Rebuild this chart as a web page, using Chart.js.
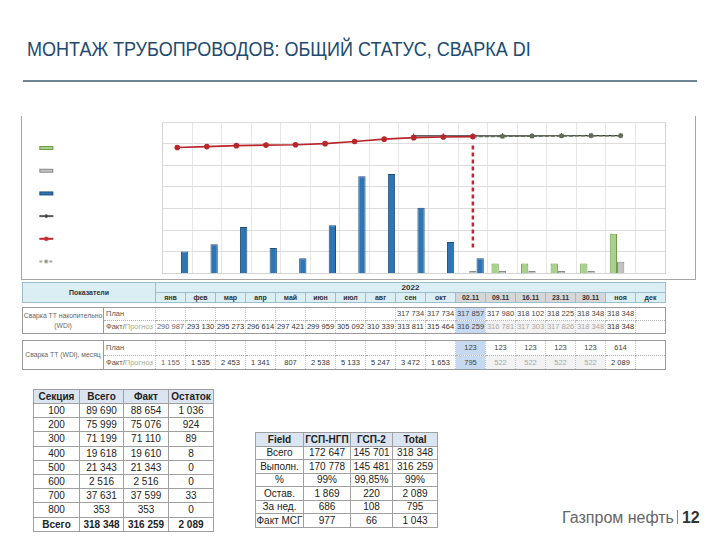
<!DOCTYPE html>
<html>
<head>
<meta charset="utf-8">
<script src="https://cdn.jsdelivr.net/npm/chart.js@4.4.1/dist/chart.umd.min.js"></script>
<style>
body{margin:0;width:720px;height:540px;background:#fff;position:relative;overflow:hidden;font-family:"Liberation Sans",Arial,sans-serif}
#title{position:absolute;left:27px;top:38px;font-size:20px;color:#1d4a6e;white-space:nowrap;transform:scaleX(0.9);transform-origin:0 0}
#rule{position:absolute;left:23px;top:80px;width:674px;height:2px;background:#6c8595}
#chartBox{position:absolute;left:21px;top:116px;width:675px;height:164px;border:1px solid #a6a6a6;border-top:none;box-sizing:border-box}
.bt{position:absolute;left:22px;border-collapse:collapse;table-layout:fixed;font-size:7.5px;color:#444}
.bt td{padding:0;text-align:center;white-space:nowrap;overflow:hidden;line-height:1}
#hdr td{background:#daeef3;border:1px solid #9cbfd0;font-weight:bold;color:#333;font-size:7px}
#hdr td.wk{background:#d6d6d6}
.blk td{border-left:1px dotted #c8c8c8;border-right:1px dotted #c8c8c8}
.blk tr.r1 td{border-bottom:1px dotted #b0b0b0}
.blk{border:1px solid #9a9a9a}
.blk td.lab{border:1px solid #9a9a9a;color:#666;line-height:1.35;font-size:6.8px}
.blk td.kind{border-left:1px solid #9a9a9a;text-align:left;padding-left:2px;color:#555}
.blk td.cur{background:#c6d9f0;color:#444}
.blk td.wk{background:#f2f2f2;color:#a8a8a8}
.prg{color:#a3b08e}
.st{position:absolute;border-collapse:collapse;table-layout:fixed;font-size:10px;color:#222}
.st td{border:1px solid #a0a0a0;text-align:center;padding:0;white-space:nowrap}
.st tr.h td{background:#dbe5f1;font-weight:bold}
.st tr.b td{font-weight:bold}
#footer{position:absolute;left:562px;top:509px;font-size:16px;color:#666;white-space:nowrap}
#footer .sep{display:inline-block;width:1px;height:14px;background:#888;margin:0 4px 0 3px;vertical-align:-1px}
#footer b{color:#333}
</style>
</head>
<body>
<div id="title">МОНТАЖ ТРУБОПРОВОДОВ: ОБЩИЙ СТАТУС, СВАРКА DI</div>
<div id="rule"></div>
<div id="chartBox"><canvas id="chart"></canvas></div>
<table class="bt" id="hdr" style="top:282px"></table>
<table class="bt blk" id="blk1" style="top:307px"></table>
<table class="bt blk" id="blk2" style="top:340px"></table>
<table class="st" id="sec" style="left:33px;top:389px"></table>
<table class="st" id="fld" style="left:255px;top:432px"></table>
<div id="footer">Газпром нефть<span class="sep"></span><b>12</b></div>
<script>
// periods on the x axis / table columns
var periods = ['янв','фев','мар','апр','май','июн','июл','авг','сен','окт','02.11','09.11','16.11','23.11','30.11','ноя','дек'];
var weeks = ['02.11','09.11','16.11','23.11','30.11'];

// monthly / weekly welding (left axis)
var forecastMonthly = [null,null,null,null,null,null,null,null,null,null,null,522,522,522,522,2089,null];
var planMonthly     = [null,null,null,null,null,null,null,null,null,null,123,123,123,123,123,614,null];
var factMonthly     = [1155,1535,2453,1341,807,2538,5133,5247,3472,1653,795,null,null,null,null,null,null];

// cumulative welding (right axis)
var planCum     = [null,null,null,null,null,null,null,null,317734,317734,317857,317980,318102,318225,318348,318348,null];
var factCum     = [290987,293130,295273,296614,297421,299959,305092,310339,313811,315464,316259,null,null,null,null,null,null];
var forecastCum = [null,null,null,null,null,null,null,null,null,null,316259,316781,317303,317826,318348,318348,null];

var todayMark = ['02.11', 60000, 300000];

// section table
var sections   = ['100','200','300','400','500','600','700','800','Всего'];
var secTotal   = [89690,75999,71199,19618,21343,2516,37631,353,318348];
var secFact    = [88654,75076,71110,19610,21343,2516,37599,353,316259];
var secRemain  = [1036,924,89,8,0,0,33,0,2089];

// field table
var fields   = ['Всего','Выполн.','%','Остав.','За нед.','Факт МСГ'];
var gspNgp   = ['172 647','170 778','99%','1 869','686','977'];
var gsp2     = ['145 701','145 481','99,85%','220','108','66'];
var fldTotal = ['318 348','316 259','99%','2 089','795','1 043'];

function fmt(n) {
  if (n === null || n === undefined) return '';
  return String(n).replace(/\B(?=(\d{3})+(?!\d))/g, ' ');
}

// ---- big table ----
var cols = '<colgroup><col style="width:81px"><col style="width:52px">';
periods.forEach(function() { cols += '<col style="width:30px">'; });
cols += '</colgroup>';

var h = cols + '<tr style="height:10px"><td colspan="2" rowspan="2">Показатели</td><td colspan="17" style="font-size:8px">2022</td></tr><tr style="height:10px">';
periods.forEach(function(p) { h += '<td' + (weeks.indexOf(p) >= 0 ? ' class="wk"' : '') + '>' + p + '</td>'; });
document.getElementById('hdr').innerHTML = h + '</tr>';

function cellClass(i, factRow) {
  if (periods[i] === '02.11') return ' class="cur"';
  if (factRow && i > 10 && i < 15) return ' class="wk"';
  return '';
}

function block(id, label, rowH, plan, fact, fcst) {
  var s = cols + '<tr class="r1" style="height:' + rowH + 'px"><td class="lab" rowspan="2">' + label + '</td><td class="kind">План</td>';
  plan.forEach(function(v, i) { s += '<td' + cellClass(i, false) + '>' + fmt(v) + '</td>'; });
  s += '</tr><tr style="height:' + rowH + 'px"><td class="kind">Факт/<span class="prg">Прогноз</span></td>';
  periods.forEach(function(p, i) {
    var v = fact[i] !== null ? fact[i] : fcst[i];
    var col = i === 0 ? ' style="color:#666"' : (i < 10 || i === 15 ? ' style="color:#333"' : '');
    var cls = cellClass(i, true);
    s += '<td' + (cls || col) + '>' + fmt(v) + '</td>';
  });
  document.getElementById(id).innerHTML = s + '</tr>';
}
block('blk1', 'Сварка ТТ накопительно<br>(WDi)', 13, planCum, factCum, forecastCum);
block('blk2', 'Сварка ТТ (WDi), месяц', 14.5, planMonthly, factMonthly, forecastMonthly);

// ---- section table ----
var s = '<colgroup><col style="width:46px"><col style="width:44px"><col style="width:45px"><col style="width:45px"></colgroup>';
s += '<tr class="h" style="height:14px"><td>Секция</td><td>Всего</td><td>Факт</td><td>Остаток</td></tr>';
sections.forEach(function(sec, i) {
  s += '<tr' + (i === sections.length - 1 ? ' class="b"' : '') + ' style="height:14.2px"><td>' + sec + '</td><td>' + fmt(secTotal[i]) + '</td><td>' + fmt(secFact[i]) + '</td><td>' + fmt(secRemain[i]) + '</td></tr>';
});
document.getElementById('sec').innerHTML = s;

// ---- field table ----
var f = '<colgroup><col style="width:48px"><col style="width:47px"><col style="width:42px"><col style="width:45px"></colgroup>';
f += '<tr class="h" style="height:13.5px"><td>Field</td><td>ГСП-НГП</td><td>ГСП-2</td><td>Total</td></tr>';
fields.forEach(function(fl, i) {
  f += '<tr style="height:13.5px"><td>' + fl + '</td><td>' + gspNgp[i] + '</td><td>' + gsp2[i] + '</td><td>' + fldTotal[i] + '</td></tr>';
});
document.getElementById('fld').innerHTML = f;

// ---- legend icons ----
function icon(draw) {
  var c = document.createElement('canvas');
  c.width = 16; c.height = 8;
  draw(c.getContext('2d'));
  return c;
}
function boxIcon(fill, stroke) {
  return icon(function(g) {
    g.fillStyle = fill; g.fillRect(1, 2, 14, 4);
    g.strokeStyle = stroke; g.lineWidth = 1; g.strokeRect(1.5, 2.5, 13, 3);
  });
}
var legendIcons = [
  boxIcon('#a9d18e', '#6f9a4c'),
  boxIcon('#c3c3c3', '#8a8a8a'),
  boxIcon('#2e75b6', '#1f4e79'),
  icon(function(g) {
    g.strokeStyle = '#222'; g.lineWidth = 1.3;
    g.beginPath(); g.moveTo(1, 4); g.lineTo(15, 4); g.moveTo(8, 2); g.lineTo(8, 6); g.stroke();
  }),
  icon(function(g) {
    g.strokeStyle = '#c0282d'; g.lineWidth = 2;
    g.beginPath(); g.moveTo(1, 4); g.lineTo(15, 4); g.stroke();
    g.fillStyle = '#c0282d'; g.beginPath(); g.arc(8, 4, 2.2, 0, Math.PI * 2); g.fill();
  }),
  icon(function(g) {
    g.strokeStyle = '#8a8f80'; g.lineWidth = 1.5; g.setLineDash([3, 2]);
    g.beginPath(); g.moveTo(1, 4); g.lineTo(15, 4); g.stroke();
    g.fillStyle = '#7d8a70'; g.fillRect(6.5, 2.5, 3, 3);
  })
];

var todayLine = {
  id: 'todayLine',
  afterDatasetsDraw: function(chart) {
    var x = chart.scales.x.getPixelForValue(periods.indexOf(todayMark[0]));
    var y1 = chart.scales.y2.getPixelForValue(todayMark[1]);
    var y2 = chart.scales.y2.getPixelForValue(todayMark[2]);
    var ctx = chart.ctx;
    ctx.save();
    ctx.strokeStyle = '#c0282d';
    ctx.lineWidth = 2.5;
    ctx.setLineDash([4, 3]);
    ctx.beginPath(); ctx.moveTo(x, y1); ctx.lineTo(x, y2); ctx.stroke();
    ctx.restore();
  }
};

new Chart(document.getElementById('chart'), {
  type: 'bar',
  data: {
    labels: periods,
    datasets: [
      { label: 'Прогноз, месяц', data: forecastMonthly, backgroundColor: '#a9d18e', borderColor: '#6f9a4c', borderWidth: 1, yAxisID: 'y', order: 2 },
      { label: 'План, месяц', data: planMonthly, backgroundColor: '#c3c3c3', borderColor: '#8a8a8a', borderWidth: 1, yAxisID: 'y', order: 2 },
      { label: 'Факт, месяц', data: factMonthly, backgroundColor: '#2e75b6', borderColor: '#1f4e79', borderWidth: 1, yAxisID: 'y', order: 2 },
      { type: 'line', label: 'План накопительно', data: planCum, borderColor: '#333', backgroundColor: '#333', borderWidth: 1.2,
        pointStyle: 'cross', pointRadius: 2.5, pointBorderWidth: 1, yAxisID: 'y2', order: 1 },
      { type: 'line', label: 'Факт накопительно', data: factCum, borderColor: '#b8262b', backgroundColor: '#b8262b', borderWidth: 1.6,
        pointStyle: 'circle', pointRadius: 2, yAxisID: 'y2', order: 0 },
      { type: 'line', label: 'Прогноз накопительно', data: forecastCum, borderColor: '#5f6a55', backgroundColor: '#6d7a60', borderWidth: 1.6,
        borderDash: [4, 2], pointStyle: 'rect', pointRadius: 1.8, yAxisID: 'y2', order: 0 }
    ]
  },
  options: {
    responsive: true,
    maintainAspectRatio: false,
    animation: false,
    layout: { padding: { top: 6, bottom: 5, left: 14, right: 0 } },
    datasets: { bar: { categoryPercentage: 0.74, barPercentage: 1.0 } },
    plugins: {
      tooltip: { enabled: false },
      legend: {
        position: 'left',
        align: 'end',
        labels: {
          usePointStyle: true,
          pointStyleWidth: 16,
          padding: 2.3,
          font: { size: 20.4 },
          sort: function(a, b) { return a.datasetIndex - b.datasetIndex; },
          generateLabels: function(chart) {
            return Chart.defaults.plugins.legend.labels.generateLabels(chart).map(function(it) {
              it.text = '';
              it.pointStyle = legendIcons[it.datasetIndex];
              return it;
            });
          }
        }
      }
    },
    scales: {
      x: {
        ticks: { display: false },
        grid: { color: '#e6e6e6', drawTicks: false },
        border: { color: '#d4d4d4' }
      },
      y: {
        position: 'left', min: 0, max: 8000,
        ticks: { display: false, count: 8 },
        grid: { color: '#dcdcdc', drawTicks: false },
        border: { color: '#d4d4d4' },
        afterFit: function(sc) { sc.width = 88; }
      },
      y2: {
        position: 'right', min: 0, max: 350000,
        ticks: { display: false, stepSize: 50000 },
        grid: { drawOnChartArea: false, drawTicks: false },
        border: { color: '#d4d4d4' },
        afterFit: function(sc) { sc.width = 30; }
      }
    }
  },
  plugins: [todayLine]
});
</script>
</body>
</html>
